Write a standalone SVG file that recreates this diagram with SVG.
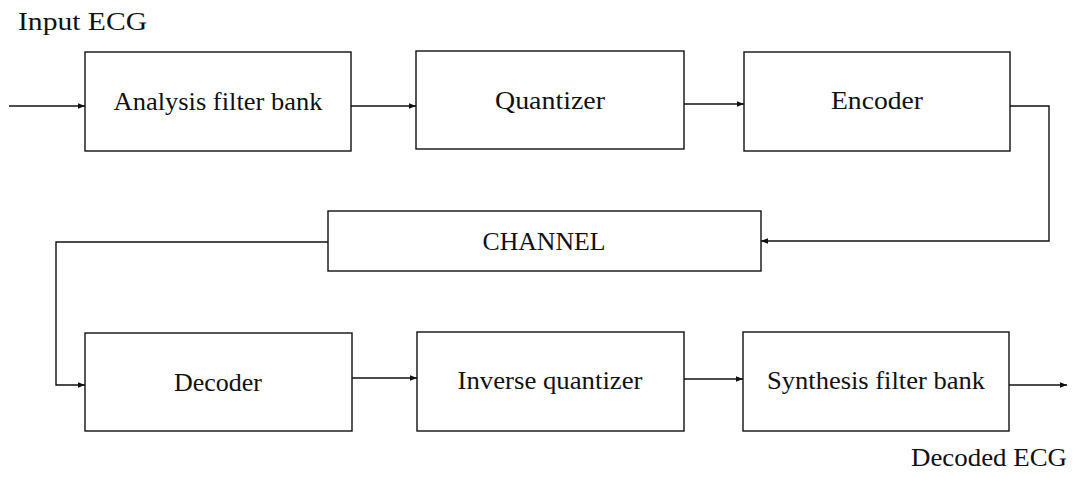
<svg xmlns="http://www.w3.org/2000/svg" width="1075" height="477" viewBox="0 0 1075 477">
<style>
.box{fill:#fff;stroke:#111;stroke-width:1.4}
.ln{fill:none;stroke:#111;stroke-width:1.4}
.t{font-family:"Liberation Serif","Times New Roman",serif;font-size:25px;fill:#111}
.c{text-anchor:middle}
</style>
<defs>
<marker id="ah" viewBox="0 0 10 10" refX="10" refY="5" markerWidth="9" markerHeight="7" markerUnits="userSpaceOnUse" orient="auto">
<path d="M0,1 L10,5 L0,9 Z" fill="#111"/>
</marker>
</defs>
<g id="connectors">
<path class="ln" d="M9,106 H85" marker-end="url(#ah)"/>
<path class="ln" d="M351,106 H416" marker-end="url(#ah)"/>
<path class="ln" d="M684,104 H744" marker-end="url(#ah)"/>
<path class="ln" d="M1010,106 H1049 V241 H761" marker-end="url(#ah)"/>
<path class="ln" d="M328,242 H56 V385 H85" marker-end="url(#ah)"/>
<path class="ln" d="M352,378 H417" marker-end="url(#ah)"/>
<path class="ln" d="M684,379 H743" marker-end="url(#ah)"/>
<path class="ln" d="M1009,385 H1067" marker-end="url(#ah)"/>
</g>
<g id="label-input"><text class="t" x="18" y="30" textLength="129" lengthAdjust="spacingAndGlyphs">Input ECG</text></g>
<g id="analysis"><rect class="box" x="85" y="52" width="266" height="99"/><text class="t c" x="218" y="110" textLength="209" lengthAdjust="spacingAndGlyphs">Analysis filter bank</text></g>
<g id="quantizer"><rect class="box" x="416" y="51" width="268" height="98"/><text class="t c" x="550" y="109" textLength="110" lengthAdjust="spacingAndGlyphs">Quantizer</text></g>
<g id="encoder"><rect class="box" x="744" y="52" width="266" height="99"/><text class="t c" x="877" y="109" textLength="92" lengthAdjust="spacingAndGlyphs">Encoder</text></g>
<g id="channel"><rect class="box" x="328" y="211" width="433" height="60"/><text class="t c" x="544" y="250" textLength="123" lengthAdjust="spacingAndGlyphs">CHANNEL</text></g>
<g id="decoder"><rect class="box" x="85" y="333" width="267" height="98"/><text class="t c" x="218" y="391" textLength="88" lengthAdjust="spacingAndGlyphs">Decoder</text></g>
<g id="invquant"><rect class="box" x="417" y="332" width="267" height="99"/><text class="t c" x="550" y="389" textLength="185" lengthAdjust="spacingAndGlyphs">Inverse quantizer</text></g>
<g id="synthesis"><rect class="box" x="743" y="332" width="266" height="99"/><text class="t c" x="876" y="389" textLength="218" lengthAdjust="spacingAndGlyphs">Synthesis filter bank</text></g>
<g id="label-output"><text class="t" x="911" y="466" textLength="156" lengthAdjust="spacingAndGlyphs">Decoded ECG</text></g>
</svg>
